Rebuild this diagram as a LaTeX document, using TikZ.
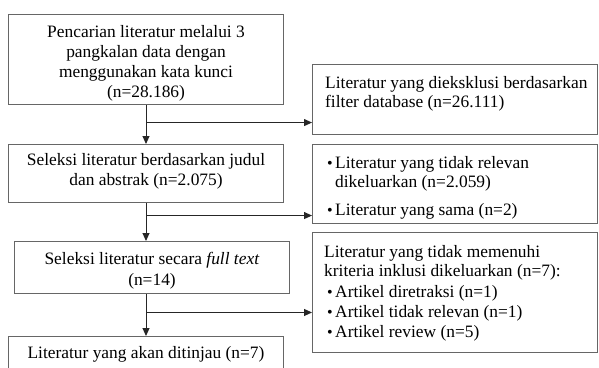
\documentclass[tikz,border=0pt]{standalone}
\usepackage{fontspec}
\setmainfont{Liberation Serif}
\usetikzlibrary{arrows.meta,calc}

\begin{document}
\begin{tikzpicture}[x=1pt,y=-1pt,
    box/.style={draw=black!60,line width=1pt,anchor=north west,inner sep=0pt},
    txt/.style={font=\fontsize{17.4}{19.5}\selectfont,inner sep=0pt,anchor=base},
    ltxt/.style={txt,anchor=base west},
    dot/.style={font=\fontsize{16}{16}\selectfont,inner sep=0pt,anchor=base east},
    arr/.style={draw=black!85,line width=1pt,-{Triangle[length=8pt,width=7pt]}}]

  \useasboundingbox (0,0) rectangle (599,367);
  \clip (0,0) rectangle (599,367);

  % left column
  \node[box,minimum width=275pt,minimum height=90pt] (b1) at (8,14) {};
  \node[box,minimum width=275pt,minimum height=58pt] (b2) at (8,144) {};
  \node[box,minimum width=275pt,minimum height=52pt] (b3) at (14,241) {};
  \node[box,minimum width=275pt,minimum height=45pt] (b4) at (8,336) {};

  % right column
  \node[box,minimum width=285pt,minimum height=70pt] (r1) at (312,64) {};
  \node[box,minimum width=285pt,minimum height=79pt] (r2) at (312,144) {};
  \node[box,minimum width=285pt,minimum height=120pt] (r3) at (312,232) {};

  \begin{scope}
    \clip (b1.north west) rectangle (b1.south east);
    \foreach \t [count=\i] in {Pencarian literatur melalui 3,pangkalan data dengan,menggunakan kata kunci,(n=28.186)}
      \node[txt] (b1-\i) at ($(b1.north)+(0,{23+(\i-1)*20})$) {\t};
  \end{scope}
  \foreach \t [count=\i] in {Seleksi literatur berdasarkan judul,dan abstrak (n=2.075)}
    \node[txt] (b2-\i) at ($(b2.north)+(0,{21+(\i-1)*20})$) {\t};
  \foreach \t [count=\i] in {Seleksi literatur secara \textit{full text},(n=14)}
    \node[txt] (b3-\i) at ($(b3.north)+(0,{23+(\i-1)*21})$) {\t};
  \node[txt] (b4-1) at ($(b4.north)+(0,22)$) {Literatur yang akan ditinjau (n=7)};

  \foreach \t [count=\i] in {Literatur yang dieksklusi berdasarkan,filter database (n=26.111)}
    \node[ltxt] (r1-\i) at ($(r1.north west)+(13,{24+(\i-1)*19})$) {\t};

  \node[ltxt] (r2-1) at ($(r2.north west)+(23,24)$) {Literatur yang tidak relevan};
  \node[ltxt] (r2-2) at ($(r2.north west)+(23,43)$) {dikeluarkan (n=2.059)};
  \node[ltxt] (r2-3) at ($(r2.north west)+(23,71)$) {Literatur yang sama (n=2)};
  \foreach \i in {1,3}
    \node[dot] (r2-d\i) at ($(r2-\i.base west)+(-2,0)$) {\textbullet};

  \node[ltxt] (r3-1) at ($(r3.north west)+(12,25)$) {Literatur yang tidak memenuhi};
  \node[ltxt] (r3-2) at ($(r3.north west)+(12,44)$) {kriteria inklusi dikeluarkan (n=7):};
  \foreach \t [count=\i from 3] in {Artikel diretraksi (n=1),Artikel tidak relevan (n=1),Artikel review (n=5)}{
    \node[ltxt] (r3-\i) at ($(r3.north west)+(23,{65+(\i-3)*20})$) {\t};
    \node[dot] (r3-d\i) at ($(r3-\i.base west)+(-2,0)$) {\textbullet};
  }

  % connectors
  \draw[arr] (b1) -- (b2);
  \coordinate (j1) at ($(b1.south)!0.45!(b2.north)$);
  \draw[arr] (j1) -- (j1 -| r1.west);

  \draw[arr] (b2.south) -- (b2.south |- b3.north);
  \coordinate (j2) at ($(b2.south)!0.33!(b2.south |- b3.north)$);
  \draw[arr] (j2) -- (j2 -| r2.west);

  \draw[arr] (b4.north |- b3.south) -- (b4.north);
  \coordinate (j3) at ($(b4.north |- b3.south)!0.44!(b4.north)$);
  \draw[arr] (j3) -- (j3 -| r3.west);

\end{tikzpicture}
\end{document}
